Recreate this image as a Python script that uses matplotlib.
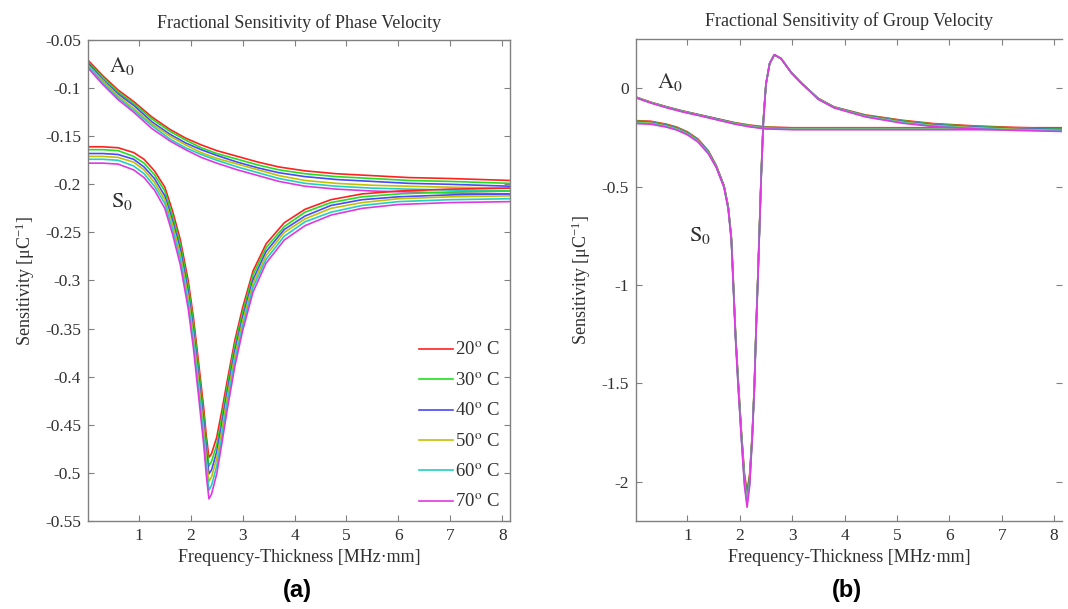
import matplotlib
matplotlib.use('Agg')
import matplotlib.pyplot as plt
from matplotlib.ticker import FuncFormatter

plt.rcParams['font.family'] = ['Liberation Serif', 'DejaVu Serif']
plt.rcParams['mathtext.fontset'] = 'stix'
plt.rcParams['axes.unicode_minus'] = False

temps = ['20', '30', '40', '50', '60', '70']
colors = ['#ff2020', '#20e020', '#4848ff', '#c4c000', '#20d0c4', '#e038e0']

# ---- (a) phase velocity ----
a0_phase_x = [0.02, 0.3, 0.6, 0.9, 1.25, 1.6, 1.9, 2.2, 2.5, 2.9, 3.3, 3.7, 4.2, 4.8, 5.5, 6.2, 7.0, 8.15]
a0_phase = [
    [-0.071, -0.087, -0.102, -0.114, -0.130, -0.143, -0.152, -0.159, -0.165, -0.171, -0.177, -0.182, -0.186, -0.189, -0.191, -0.193, -0.194, -0.196],
    [-0.073, -0.089, -0.104, -0.116, -0.132, -0.145, -0.154, -0.162, -0.168, -0.174, -0.180, -0.185, -0.189, -0.192, -0.194, -0.196, -0.197, -0.199],
    [-0.074, -0.091, -0.106, -0.118, -0.135, -0.148, -0.157, -0.164, -0.170, -0.177, -0.183, -0.188, -0.192, -0.195, -0.197, -0.199, -0.200, -0.202],
    [-0.076, -0.092, -0.108, -0.121, -0.137, -0.150, -0.159, -0.167, -0.173, -0.179, -0.185, -0.191, -0.196, -0.199, -0.201, -0.202, -0.203, -0.204],
    [-0.077, -0.094, -0.110, -0.123, -0.139, -0.153, -0.162, -0.169, -0.175, -0.182, -0.188, -0.194, -0.199, -0.202, -0.204, -0.205, -0.206, -0.207],
    [-0.079, -0.096, -0.112, -0.125, -0.142, -0.155, -0.164, -0.172, -0.178, -0.185, -0.191, -0.197, -0.202, -0.205, -0.207, -0.208, -0.209, -0.210],
]

s0_phase_x = [0.02, 0.3, 0.6, 0.9, 1.1, 1.3, 1.5, 1.65, 1.8, 1.95, 2.05, 2.15, 2.25, 2.3, 2.35,
              2.4, 2.5, 2.6, 2.7, 2.85, 3.0, 3.2, 3.45, 3.8, 4.2, 4.7, 5.3, 6.0, 7.0, 8.15]
s0_phase = [
    [-0.161, -0.161, -0.162, -0.167, -0.174, -0.186, -0.203, -0.228, -0.258, -0.300, -0.338, -0.385, -0.433, -0.462, -0.484,
     -0.480, -0.463, -0.435, -0.405, -0.362, -0.328, -0.290, -0.262, -0.240, -0.226, -0.216, -0.210, -0.207, -0.205, -0.204],
    [-0.164, -0.164, -0.165, -0.171, -0.178, -0.190, -0.207, -0.233, -0.263, -0.306, -0.344, -0.392, -0.441, -0.470, -0.493,
     -0.488, -0.471, -0.442, -0.411, -0.367, -0.333, -0.294, -0.266, -0.244, -0.229, -0.219, -0.213, -0.210, -0.208, -0.207],
    [-0.168, -0.168, -0.169, -0.174, -0.182, -0.194, -0.212, -0.238, -0.268, -0.312, -0.351, -0.399, -0.448, -0.478, -0.501,
     -0.497, -0.478, -0.449, -0.417, -0.373, -0.338, -0.299, -0.270, -0.247, -0.233, -0.222, -0.216, -0.213, -0.211, -0.210],
    [-0.171, -0.171, -0.172, -0.177, -0.185, -0.198, -0.216, -0.242, -0.273, -0.317, -0.357, -0.405, -0.455, -0.486, -0.509,
     -0.504, -0.485, -0.455, -0.422, -0.378, -0.342, -0.303, -0.274, -0.250, -0.236, -0.225, -0.219, -0.215, -0.213, -0.212],
    [-0.174, -0.174, -0.175, -0.181, -0.189, -0.202, -0.220, -0.247, -0.278, -0.323, -0.363, -0.412, -0.463, -0.494, -0.518,
     -0.513, -0.493, -0.462, -0.428, -0.383, -0.347, -0.307, -0.278, -0.254, -0.239, -0.229, -0.222, -0.218, -0.216, -0.215],
    [-0.178, -0.178, -0.179, -0.185, -0.193, -0.206, -0.225, -0.252, -0.284, -0.329, -0.370, -0.420, -0.471, -0.503, -0.527,
     -0.522, -0.501, -0.469, -0.435, -0.389, -0.352, -0.312, -0.282, -0.258, -0.243, -0.232, -0.225, -0.221, -0.219, -0.218],
]

# ---- (b) group velocity ----
a0_group_x = [0.02, 0.3, 0.6, 0.9, 1.25, 1.6, 1.9, 2.2, 2.5, 3.0, 4.0, 5.0, 6.0, 7.0, 8.15]
a0_group = [
    [-0.045, -0.071, -0.094, -0.115, -0.136, -0.157, -0.175, -0.188, -0.197, -0.201, -0.201, -0.201, -0.201, -0.201, -0.201],
    [-0.046, -0.072, -0.095, -0.116, -0.137, -0.158, -0.176, -0.190, -0.199, -0.203, -0.203, -0.203, -0.203, -0.203, -0.203],
    [-0.047, -0.073, -0.096, -0.117, -0.138, -0.159, -0.178, -0.192, -0.201, -0.205, -0.205, -0.205, -0.205, -0.205, -0.205],
    [-0.047, -0.073, -0.097, -0.118, -0.139, -0.161, -0.179, -0.193, -0.203, -0.207, -0.207, -0.207, -0.207, -0.207, -0.207],
    [-0.048, -0.074, -0.098, -0.119, -0.140, -0.162, -0.181, -0.195, -0.205, -0.209, -0.209, -0.209, -0.209, -0.209, -0.209],
    [-0.049, -0.075, -0.099, -0.120, -0.141, -0.163, -0.182, -0.197, -0.207, -0.211, -0.211, -0.211, -0.211, -0.211, -0.211],
]

s0_group_x = [0.02, 0.3, 0.6, 0.8, 1.0, 1.2, 1.4, 1.55, 1.7, 1.78, 1.84, 1.88, 1.92, 1.97, 2.03, 2.09, 2.14,
              2.19, 2.24, 2.28, 2.31, 2.34, 2.37, 2.41, 2.45, 2.5, 2.57, 2.66, 2.79, 2.98, 3.18, 3.5, 3.8,
              4.4, 5.1, 5.7, 6.5, 7.3, 8.15]
s0_group = [
    [-0.165, -0.168, -0.183, -0.198, -0.222, -0.258, -0.318, -0.392, -0.495, -0.600, -0.760, -1.000, -1.250, -1.480, -1.740, -1.960, -2.050,
     -1.960, -1.750, -1.500, -1.230, -1.000, -0.760, -0.430, -0.160, 0.020, 0.125, 0.170, 0.150, 0.080, 0.025, -0.052, -0.095,
     -0.136, -0.163, -0.180, -0.192, -0.200, -0.205],
    [-0.168, -0.171, -0.186, -0.201, -0.225, -0.261, -0.321, -0.394, -0.497, -0.603, -0.763, -1.005, -1.255, -1.488, -1.748, -1.972, -2.066,
     -1.972, -1.754, -1.504, -1.234, -1.004, -0.764, -0.434, -0.164, 0.020, 0.125, 0.170, 0.150, 0.080, 0.025, -0.053, -0.096,
     -0.138, -0.166, -0.183, -0.195, -0.203, -0.208],
    [-0.171, -0.174, -0.189, -0.204, -0.228, -0.264, -0.324, -0.396, -0.499, -0.606, -0.766, -1.010, -1.260, -1.496, -1.756, -1.984, -2.082,
     -1.984, -1.758, -1.508, -1.238, -1.008, -0.768, -0.438, -0.168, 0.020, 0.125, 0.170, 0.150, 0.080, 0.025, -0.054, -0.097,
     -0.140, -0.169, -0.186, -0.198, -0.206, -0.211],
    [-0.174, -0.177, -0.192, -0.207, -0.231, -0.267, -0.327, -0.398, -0.501, -0.609, -0.769, -1.015, -1.265, -1.504, -1.764, -1.996, -2.098,
     -1.996, -1.762, -1.512, -1.242, -1.012, -0.772, -0.442, -0.172, 0.020, 0.125, 0.170, 0.150, 0.080, 0.025, -0.055, -0.098,
     -0.142, -0.172, -0.189, -0.201, -0.209, -0.214],
    [-0.177, -0.180, -0.195, -0.210, -0.234, -0.270, -0.330, -0.400, -0.503, -0.612, -0.772, -1.020, -1.270, -1.512, -1.772, -2.008, -2.114,
     -2.008, -1.766, -1.516, -1.246, -1.016, -0.776, -0.446, -0.176, 0.020, 0.125, 0.170, 0.150, 0.080, 0.025, -0.056, -0.099,
     -0.144, -0.175, -0.192, -0.204, -0.212, -0.217],
    [-0.180, -0.183, -0.198, -0.213, -0.237, -0.273, -0.333, -0.402, -0.505, -0.615, -0.775, -1.025, -1.275, -1.520, -1.780, -2.020, -2.130,
     -2.020, -1.770, -1.520, -1.250, -1.020, -0.780, -0.450, -0.180, 0.020, 0.125, 0.170, 0.150, 0.080, 0.025, -0.057, -0.100,
     -0.146, -0.178, -0.195, -0.207, -0.215, -0.220],
]

phase_yticks = [-0.55, -0.5, -0.45, -0.4, -0.35, -0.3, -0.25, -0.2, -0.15, -0.1, -0.05]
group_yticks = [-2, -1.5, -1, -0.5, 0]
xticks = [1, 2, 3, 4, 5, 6, 7, 8]

W, H = 1068, 609
fig = plt.figure(figsize=(W / 100, H / 100), dpi=100)
ax1 = fig.add_axes([88 / W, 88 / H, 422 / W, 481 / H])
ax2 = fig.add_axes([636 / W, 88 / H, 426 / W, 482 / H])

fmt = FuncFormatter(lambda v, p: '%g' % v)
for ax in (ax1, ax2):
    for s in ax.spines.values():
        s.set_color('#808080')
        s.set_linewidth(1.0)
    ax.tick_params(direction='in', top=True, right=True, length=4, width=0.8,
                   color='#808080', labelsize=12.5, labelcolor='#303030', pad=5)
    ax.set_xticks(xticks)
    ax.xaxis.set_major_formatter(fmt)
    ax.yaxis.set_major_formatter(fmt)
    ax.set_xlim(0.02, 8.15)
    ax.set_xlabel('Frequency-Thickness [MHz·mm]', fontsize=13, color='#303030', labelpad=4)
    ax.set_ylabel('Sensitivity [μC$^{\\mathregular{-1}}$]', fontsize=13, color='#303030', labelpad=6)
ax2.spines['right'].set_visible(False)

# phase velocity panel
for i in range(len(temps)):
    ax1.plot(a0_phase_x, a0_phase[i], color=colors[i], lw=1.2)
for i in range(len(temps)):
    ax1.plot(s0_phase_x, s0_phase[i], color=colors[i], lw=1.2, label=temps[i] + '$^{\\mathrm{o}}$ C')
ax1.set_ylim(-0.55, -0.05)
ax1.set_yticks(phase_yticks)
ax1.set_title('Fractional Sensitivity of Phase Velocity', fontsize=13, color='#303030', pad=9)
ax1.text(0.67, -0.077, '$\\mathrm{A}_0$', fontsize=16, color='#303030', ha='center', va='center')
ax1.text(0.67, -0.218, '$\\mathrm{S}_0$', fontsize=16, color='#303030', ha='center', va='center')
leg = ax1.legend(loc='lower right', bbox_to_anchor=(0.975, 0.02), frameon=False, fontsize=13.5,
                 handlelength=1.8, handletextpad=0.1, labelspacing=0.69, borderpad=0, borderaxespad=0)
for t in leg.get_texts():
    t.set_color('#303030')

# group velocity panel
for i in range(len(temps)):
    ax2.plot(a0_group_x, a0_group[i], color=colors[i], lw=1.2)
for i in range(len(temps)):
    ax2.plot(s0_group_x, s0_group[i], color=colors[i], lw=1.2)
ax2.set_ylim(-2.2, 0.25)
ax2.set_yticks(group_yticks)
ax2.set_title('Fractional Sensitivity of Group Velocity', fontsize=13, color='#303030', pad=9)
ax2.text(0.66, 0.03, '$\\mathrm{A}_0$', fontsize=16, color='#303030', ha='center', va='center')
ax2.text(1.25, -0.75, '$\\mathrm{S}_0$', fontsize=16, color='#303030', ha='center', va='center')

fig.text(297 / W, 1 - 590 / H, '(a)', fontsize=17, fontweight='bold', family='Liberation Sans',
         ha='center', va='center')
fig.text(847 / W, 1 - 590 / H, '(b)', fontsize=17, fontweight='bold', family='Liberation Sans',
         ha='center', va='center')

fig.savefig('out.png', dpi=100)
